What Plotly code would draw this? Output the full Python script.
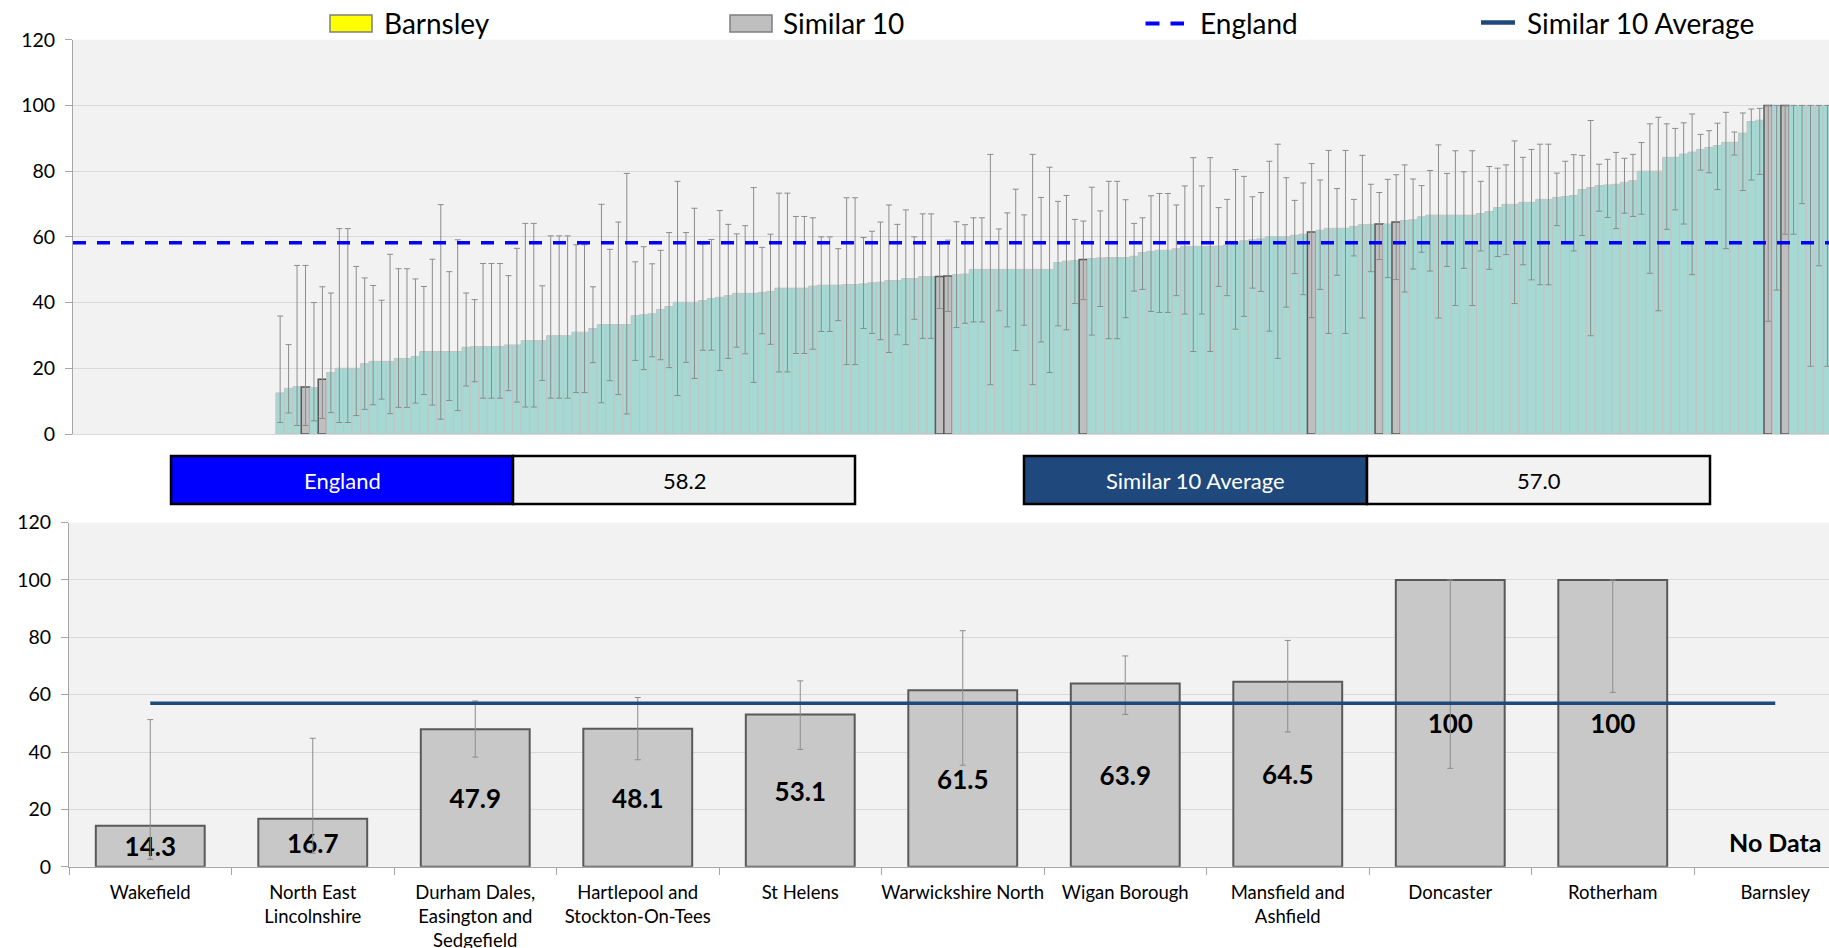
import plotly.graph_objects as go

W, H = 1829, 948

england_value = 58.2
similar_avg_value = 57.0

# ---------------- Top chart: all CCGs, sorted (value, lower CI, upper CI) ----------------
top_missing_count = 24  # CCGs with no data (incl. Barnsley), plotted as empty slots on the left

top_values = [
    12.5, 13.9, 14.4, 14.3, 14.1, 16.7, 18.7, 20.0, 20.0, 20.0,
    21.4, 22.1, 22.1, 22.1, 23.0, 23.0, 23.6, 25.1, 25.1, 25.1,
    25.1, 25.1, 26.4, 26.6, 26.6, 26.6, 26.6, 27.1, 27.1, 28.4,
    28.4, 28.4, 29.9, 29.9, 29.9, 31.0, 31.0, 32.1, 33.3, 33.3,
    33.3, 33.3, 36.0, 36.3, 36.6, 37.9, 38.8, 40.1, 40.1, 40.1,
    40.6, 41.2, 41.6, 42.1, 42.8, 42.8, 42.8, 43.1, 43.4, 44.4,
    44.4, 44.4, 44.4, 45.0, 45.3, 45.3, 45.3, 45.5, 45.5, 45.7,
    46.0, 46.2, 46.7, 46.7, 47.3, 47.3, 47.9, 47.9, 47.9, 48.1,
    48.5, 48.7, 50.1, 50.1, 50.1, 50.1, 50.1, 50.1, 50.1, 50.1,
    50.1, 50.1, 52.2, 52.6, 52.8, 53.1, 53.4, 53.6, 53.7, 53.7,
    53.7, 54.1, 55.2, 55.6, 55.9, 55.9, 56.4, 57.1, 57.1, 57.1,
    57.1, 57.2, 57.5, 58.3, 58.8, 59.1, 59.4, 60.0, 60.0, 60.0,
    60.5, 60.8, 61.5, 62.0, 62.6, 62.6, 62.6, 63.2, 63.7, 63.8,
    63.9, 63.9, 64.5, 65.0, 65.2, 66.1, 66.6, 66.6, 66.6, 66.6,
    66.6, 66.6, 67.1, 67.7, 68.9, 69.9, 69.9, 70.5, 70.5, 71.4,
    71.4, 72.0, 72.3, 72.6, 74.4, 75.0, 75.6, 75.8, 76.0, 76.6,
    77.1, 80.0, 80.0, 80.0, 84.2, 84.2, 85.2, 85.8, 86.6, 87.2,
    87.8, 88.8, 88.8, 91.6, 95.1, 95.5, 100, 100, 100, 100,
    100, 100, 100, 100,
]

top_lower = [
    3.5, 6.4, 2.6, 2.6, 4.0, 4.7, 6.5, 3.5, 3.5, 5.6,
    7.5, 8.9, 10.6, 6.2, 8.1, 8.1, 9.4, 12.0, 8.8, 4.5,
    10.2, 7.1, 14.6, 15.9, 10.9, 10.9, 10.9, 13.2, 9.7, 8.2,
    8.2, 16.3, 10.9, 10.9, 10.9, 12.6, 12.6, 21.7, 9.5, 16.2,
    12.0, 6.1, 22.4, 19.6, 23.5, 22.6, 20.2, 11.7, 21.8, 16.9,
    25.5, 25.5, 19.3, 23.0, 26.4, 24.4, 15.7, 30.5, 27.3, 18.9,
    18.9, 24.5, 24.5, 25.8, 31.2, 31.2, 34.5, 21.1, 21.1, 32.1,
    30.6, 28.7, 24.8, 30.2, 27.2, 34.9, 29.1, 29.1, 38.2, 37.3,
    32.4, 33.7, 34.1, 34.1, 15.0, 37.5, 32.6, 25.4, 33.1, 15.0,
    28.0, 18.7, 32.9, 31.7, 39.7, 40.9, 30.1, 38.8, 29.0, 29.0,
    35.4, 43.5, 44.0, 37.3, 37.0, 37.0, 42.1, 36.5, 25.1, 36.5,
    25.1, 44.9, 42.1, 31.9, 35.8, 44.4, 43.4, 31.3, 23.0, 38.6,
    48.8, 42.4, 35.4, 44.0, 30.6, 48.3, 30.6, 54.2, 35.3, 49.4,
    53.1, 47.6, 47.0, 43.2, 50.2, 55.3, 49.6, 35.3, 51.0, 39.1,
    50.4, 39.1, 55.7, 50.1, 54.0, 54.6, 39.7, 51.5, 46.9, 45.4,
    45.4, 63.4, 58.3, 55.7, 60.4, 29.9, 67.8, 65.9, 62.5, 67.2,
    66.2, 66.9, 48.9, 37.5, 62.3, 68.2, 63.9, 48.5, 80.3, 79.5,
    74.4, 56.4, 84.9, 74.1, 77.3, 79.0, 34.3, 43.8, 60.8, 60.8,
    70.1, 20.6, 51.2, 20.6,
]

top_upper = [
    35.9, 27.2, 51.3, 51.3, 40.0, 44.8, 42.9, 62.5, 62.5, 51.0,
    47.5, 45.2, 40.7, 54.7, 50.3, 50.3, 47.2, 44.9, 53.2, 69.8,
    49.4, 59.1, 42.9, 40.9, 51.9, 51.9, 51.9, 48.2, 56.5, 64.1,
    64.1, 45.1, 60.3, 60.3, 60.3, 57.6, 57.6, 44.8, 69.9, 56.2,
    64.5, 79.3, 52.4, 57.0, 51.8, 55.9, 61.3, 76.9, 61.3, 68.7,
    57.8, 59.2, 68.0, 63.8, 60.9, 63.4, 75.0, 56.8, 60.8, 73.3,
    73.3, 66.2, 66.2, 65.8, 60.0, 60.0, 56.4, 71.9, 71.9, 59.8,
    61.7, 64.5, 69.7, 63.8, 68.2, 60.0, 67.0, 67.0, 57.8, 59.0,
    64.6, 63.7, 65.8, 65.8, 85.1, 62.4, 67.3, 74.5, 66.7, 85.1,
    72.0, 81.2, 70.8, 72.6, 65.3, 64.8, 75.1, 67.9, 76.9, 76.9,
    71.3, 64.1, 65.8, 72.5, 73.2, 73.2, 69.7, 75.5, 84.1, 75.5,
    84.1, 68.9, 71.4, 80.5, 78.4, 72.2, 73.5, 83.0, 88.2, 78.0,
    71.1, 76.4, 82.3, 77.3, 86.3, 74.7, 86.3, 71.4, 84.8, 76.0,
    73.5, 77.5, 78.9, 81.9, 77.6, 75.6, 80.2, 88.0, 79.3, 86.2,
    79.8, 86.2, 76.9, 81.4, 80.9, 81.9, 89.2, 84.2, 86.6, 88.2,
    88.2, 79.4, 83.0, 85.0, 84.8, 95.4, 82.1, 83.6, 85.7, 83.9,
    85.1, 88.7, 94.4, 96.4, 94.4, 93.0, 94.7, 97.4, 91.2, 92.3,
    94.6, 97.9, 91.9, 97.7, 98.9, 99.1, 100, 100, 100, 100,
    100, 100, 100, 100,
]

# 1-based rank (among CCGs with data) of each Similar 10 member in the top chart
similar_rank_in_top = [4, 6, 79, 80, 96, 123, 131, 133, 177, 179]

# ---------------- Bottom chart: Barnsley + Similar 10 ----------------
bottom_names = [
    "Wakefield", "North East<br>Lincolnshire", "Durham Dales,<br>Easington and<br>Sedgefield",
    "Hartlepool and<br>Stockton-On-Tees", "St Helens", "Warwickshire North", "Wigan Borough",
    "Mansfield and<br>Ashfield", "Doncaster", "Rotherham", "Barnsley",
]
bottom_values = [14.3, 16.7, 47.9, 48.1, 53.1, 61.5, 63.9, 64.5, 100, 100, None]
bottom_lower = [2.6, 4.7, 38.2, 37.3, 40.9, 35.4, 53.1, 47.0, 34.3, 60.8, None]
bottom_upper = [51.3, 44.8, 57.8, 59.0, 64.8, 82.3, 73.5, 78.9, 100, 100, None]

# ---------------- styling ----------------
FONT = "Lato, 'Open Sans', sans-serif"
TEAL = "#A6D8D4"
TEAL_LINE = "#C3C3C3"
GREY = "#BFBFBF"
GREY_LINE = "#595959"
NAVY = "#1F497D"
GRID = "#D9D9D9"
AXIS = "#A6A6A6"
ERR = "#8C8C8C"
PLOT_BG = "#F2F2F2"


def px_x(px):
    return px / W


def px_y(py):
    return 1 - py / H


fig = go.Figure()

# top chart bars
x_top = [top_missing_count + i for i in range(len(top_values))]
colors = [TEAL] * len(top_values)
line_colors = [TEAL_LINE] * len(top_values)
line_widths = [1] * len(top_values)
for r in similar_rank_in_top:
    colors[r - 1] = GREY
    line_colors[r - 1] = GREY_LINE
    line_widths[r - 1] = 1.5

fig.add_trace(go.Bar(
    x=x_top, y=top_values, width=1.0,
    marker=dict(color=colors, line=dict(color=line_colors, width=line_widths)),
    error_y=dict(type="data", symmetric=False,
                 array=[round(u - v, 2) for u, v in zip(top_upper, top_values)],
                 arrayminus=[round(v - l, 2) for v, l in zip(top_values, top_lower)],
                 color=ERR, thickness=1, width=3),
    xaxis="x", yaxis="y", showlegend=False, hoverinfo="skip",
))

# plot areas run to the right edge of the window
top_left_px, top_step = 73, 8.455
top_xmax = -0.5 + (W - top_left_px) / top_step
bot_left_px, bot_step = 69, 162.5
bot_xmax = -0.5 + (W - bot_left_px) / bot_step

fig.add_trace(go.Scatter(
    x=[-0.5, top_xmax + 1], y=[england_value, england_value], mode="lines",
    line=dict(color="#0000FF", width=3.5, dash="13px,11px"),
    xaxis="x", yaxis="y", showlegend=False, hoverinfo="skip",
))

# bottom chart bars
fig.add_trace(go.Bar(
    x=bottom_names, y=bottom_values, width=0.67,
    marker=dict(color="#C8C8C8", line=dict(color=GREY_LINE, width=2)),
    error_y=dict(type="data", symmetric=False,
                 array=[None if v is None else round(u - v, 2) for u, v in zip(bottom_upper, bottom_values)],
                 arrayminus=[None if v is None else round(v - l, 2) for v, l in zip(bottom_values, bottom_lower)],
                 color=ERR, thickness=1, width=3),
    text=[None if v is None else f"{v:g}" for v in bottom_values],
    textposition="inside", insidetextanchor="middle", constraintext="none",
    textfont=dict(family=FONT, size=26, color="#000000", weight="bold"),
    xaxis="x2", yaxis="y2", showlegend=False, hoverinfo="skip",
))

fig.add_trace(go.Scatter(
    x=bottom_names, y=[similar_avg_value] * len(bottom_names), mode="lines",
    line=dict(color=NAVY, width=3.5),
    xaxis="x2", yaxis="y2", showlegend=False, hoverinfo="skip",
))

shapes = []
annotations = []

# "No Data" for Barnsley
annotations.append(dict(x=bottom_names[-1], y=8.6, xref="x2", yref="y2", text="No Data",
                        showarrow=False,
                        font=dict(family=FONT, size=25, color="#000000", weight="bold")))

# Summary boxes
box_y0, box_y1 = px_y(504), px_y(456)
for (x0, x1, fill, txt, tcol) in [
    (171, 513, "#0000FF", "England", "#FFFFFF"),
    (513, 855, PLOT_BG, f"{england_value:.1f}", "#000000"),
    (1024, 1367, NAVY, "Similar 10 Average", "#FFFFFF"),
    (1367, 1710, PLOT_BG, f"{similar_avg_value:.1f}", "#000000"),
]:
    shapes.append(dict(type="rect", xref="paper", yref="paper", x0=px_x(x0), x1=px_x(x1),
                       y0=box_y0, y1=box_y1, fillcolor=fill, line=dict(color="#000000", width=2.5),
                       layer="above"))
    annotations.append(dict(xref="paper", yref="paper", x=px_x((x0 + x1) / 2), y=px_y(480),
                            text=txt, showarrow=False, xanchor="center", yanchor="middle",
                            font=dict(family=FONT, size=22, color=tcol)))

# Manual legend
leg_y = px_y(23.5)
shapes.append(dict(type="rect", xref="paper", yref="paper", x0=px_x(330), x1=px_x(372),
                   y0=px_y(32), y1=px_y(15), fillcolor="#FFFF00", line=dict(color="#7F7F7F", width=1.5)))
shapes.append(dict(type="rect", xref="paper", yref="paper", x0=px_x(730), x1=px_x(772),
                   y0=px_y(32), y1=px_y(15), fillcolor=GREY, line=dict(color="#7F7F7F", width=1.5)))
shapes.append(dict(type="line", xref="paper", yref="paper", x0=px_x(1145.5), x1=px_x(1184),
                   y0=px_y(23.5), y1=px_y(23.5), line=dict(color="#0000FF", width=4, dash="14px,11px")))
shapes.append(dict(type="line", xref="paper", yref="paper", x0=px_x(1481), x1=px_x(1515),
                   y0=px_y(22.5), y1=px_y(22.5), line=dict(color=NAVY, width=4.5)))
for (xl, txt) in [(382, "Barnsley"), (781, "Similar 10"), (1198, "England"), (1525, "Similar 10 Average")]:
    annotations.append(dict(xref="paper", yref="paper", x=px_x(xl), y=leg_y, text=txt,
                            showarrow=False, xanchor="left", yanchor="middle",
                            font=dict(family=FONT, size=28, color="#000000")))

axis_common = dict(showgrid=False, zeroline=False, automargin=False)
yaxis_common = dict(range=[0, 120], dtick=20, showgrid=True, gridcolor=GRID, gridwidth=1,
                    zeroline=False, showline=True, linecolor=AXIS, linewidth=1,
                    ticks="outside", ticklen=7, tickcolor=AXIS, ticklabelstandoff=6,
                    tickfont=dict(family=FONT, size=19.5, color="#000000"), automargin=False)

fig.update_layout(
    width=W, height=H,
    margin=dict(l=0, r=0, t=0, b=0),
    paper_bgcolor="#FFFFFF", plot_bgcolor=PLOT_BG,
    font=dict(family=FONT, color="#000000"),
    showlegend=False,
    xaxis=dict(domain=[px_x(top_left_px), 1], range=[-0.5, top_xmax], showticklabels=False, ticks="",
               showline=True, linecolor=GRID, **axis_common),
    yaxis=dict(domain=[px_y(434), px_y(39.7)], **yaxis_common),
    xaxis2=dict(domain=[px_x(bot_left_px), 1], anchor="y2", type="category", range=[-0.5, bot_xmax],
                ticks="outside", tickson="boundaries", ticklen=7, tickcolor=AXIS, tickangle=0,
                showline=True, linecolor=AXIS, linewidth=1, ticklabelstandoff=9,
                tickfont=dict(family=FONT, size=18.5, color="#000000"), **axis_common),
    yaxis2=dict(domain=[px_y(866.7), px_y(522.6)], anchor="x2", **yaxis_common),
    shapes=shapes,
    annotations=annotations,
)

fig.write_html(
    "out.html",
    config={"displayModeBar": False},
    post_script="document.body.style.margin='0px'; document.body.style.overflow='hidden';",
)
